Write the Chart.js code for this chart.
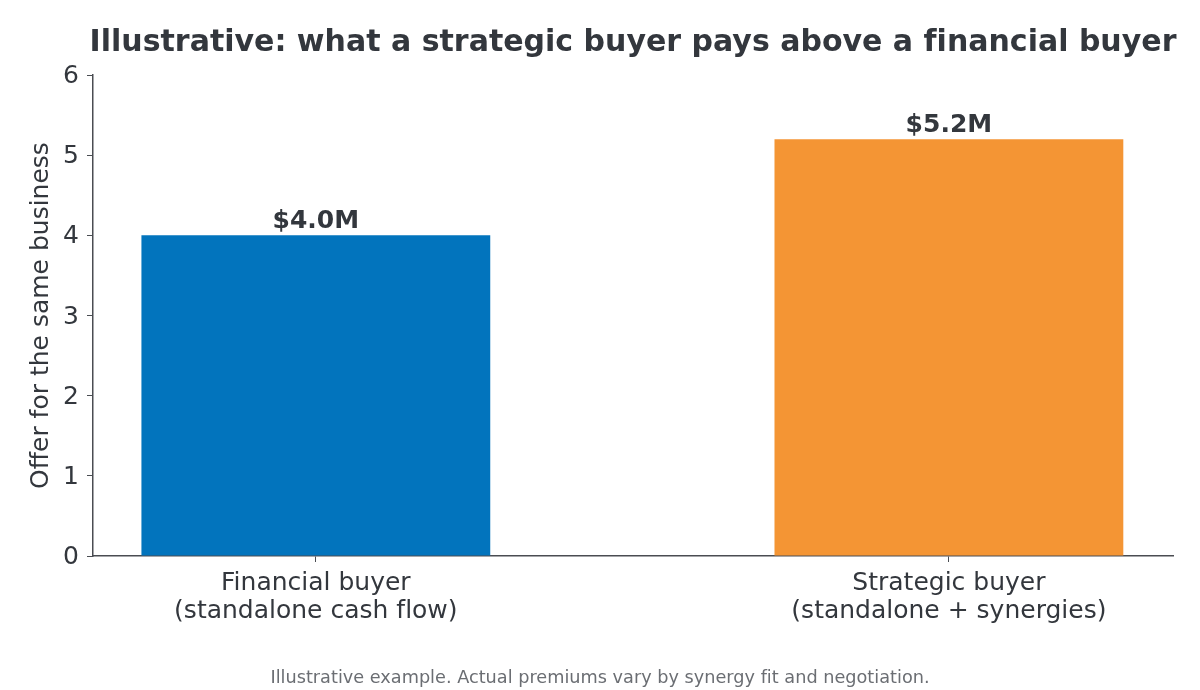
<!DOCTYPE html>
<html>
<head>
<meta charset="utf-8">
<script src="https://cdn.jsdelivr.net/npm/chart.js@4.4.1/dist/chart.umd.min.js"></script>
<style>
  html, body { margin: 0; padding: 0; background: #fff; }
  #wrap { width: 1200px; height: 690px; }
</style>
</head>
<body>
<div id="wrap"><canvas id="chart" width="1200" height="690"></canvas></div>
<script>
// chart data
const categories = [
  ["Financial buyer", "(standalone cash flow)"],
  ["Strategic buyer", "(standalone + synergies)"]
];
const offers = [4.0, 5.2];
const valueLabels = ["$4.0M", "$5.2M"];
const barColors = ["#0274bd", "#f49534"];
const yTicks = [0, 1, 2, 3, 4, 5, 6];

const titleText = "Illustrative: what a strategic buyer pays above a financial buyer";
const noteText = "Illustrative example. Actual premiums vary by synergy fit and negotiation.";

const textColor = "#33373d";
const axisColor = "#4a4d52";
const font = "'DejaVu Sans', sans-serif";

// keep "fi" / "fl" as separate glyphs like the reference
const noLig = s => s.replace(/f([il])/g, "f\u200C$1");

// title, footnote and bar value labels
const extrasPlugin = {
  id: "extras",
  afterDatasetsDraw(chart) {
    const { ctx, chartArea } = chart;
    ctx.save();
    ctx.fillStyle = textColor;
    ctx.textAlign = "center";
    ctx.textBaseline = "alphabetic";
    ctx.font = "bold 30px " + font;
    ctx.fillText(noLig(titleText), (chartArea.left + chartArea.right) / 2, 51);

    ctx.font = "bold 25px " + font;
    chart.getDatasetMeta(0).data.forEach((bar, i) => {
      ctx.fillText(valueLabels[i], bar.x, bar.y - 7);
    });

    ctx.fillStyle = "#6b6e73";
    ctx.font = "17.7px " + font;
    ctx.fillText(noLig(noteText), 600, 683);
    ctx.restore();
  }
};

new Chart(document.getElementById("chart"), {
  type: "bar",
  data: {
    datasets: [{
      data: offers.map((v, i) => ({ x: i, y: v })),
      backgroundColor: barColors,
      borderWidth: 0,
      barPercentage: 0.551,
      categoryPercentage: 1
    }]
  },
  options: {
    responsive: false,
    animation: false,
    layout: { padding: { top: 75, right: 27, left: 0, bottom: 0 } },
    plugins: { legend: { display: false }, tooltip: { enabled: false }, title: { display: false } },
    scales: {
      x: {
        type: "linear",
        offset: false,
        min: -0.352,
        max: 1.354,
        afterBuildTicks: s => { s.ticks = categories.map((c, i) => ({ value: i })); },
        afterFit: s => { s.height = 134; },
        grid: { offset: false, drawOnChartArea: false, color: axisColor, tickLength: 6, tickColor: axisColor },
        border: { color: axisColor, width: 1.5 },
        ticks: {
          callback: v => categories[v].map(noLig),
          color: textColor,
          font: { family: font, size: 25, lineHeight: 1.12 },
          padding: 7,
          maxRotation: 0,
          autoSkip: false
        }
      },
      y: {
        min: 0,
        max: 6,
        afterBuildTicks: s => { s.ticks = yTicks.map(v => ({ value: v })); },
        afterFit: s => { s.width = 93; },
        grid: { drawOnChartArea: false, color: axisColor, tickLength: 6, tickColor: axisColor },
        border: { color: axisColor, width: 1.5 },
        ticks: {
          color: textColor,
          font: { family: font, size: 25 },
          padding: 8,
          labelOffset: 1.5
        },
        title: {
          display: true,
          text: "Offer for the same business",
          color: textColor,
          font: { family: font, size: 25 },
          padding: { top: 26, bottom: 0 }
        }
      }
    }
  },
  plugins: [extrasPlugin]
});
</script>
</body>
</html>
